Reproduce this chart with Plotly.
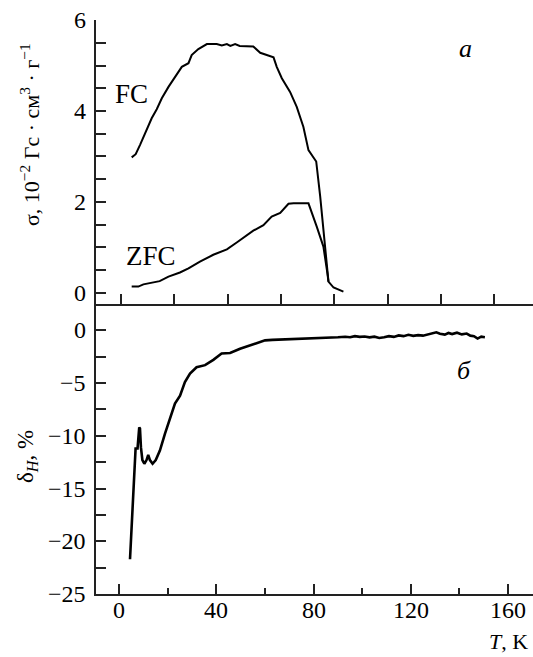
import plotly.graph_objects as go

# ---- Upper panel (a): magnetization sigma vs T ----
fc_T = [4.0, 5.5, 7.1, 9.0, 11.5, 13.4, 15.3, 17.8, 20.3, 22.8, 25.3, 26.5, 29.0, 32.2,
        35.9, 37.8, 39.7, 41.0, 42.8, 44.5, 49.6, 52.2, 57.2, 58.4, 60.3, 63.4, 65.9,
        68.4, 70.3, 73.2, 74.7, 76.5, 77.8, 79.7, 83.4]
fc_S = [2.98, 3.05, 3.25, 3.51, 3.84, 4.04, 4.28, 4.53, 4.75, 4.97, 5.05, 5.23, 5.36, 5.47,
        5.47, 5.44, 5.47, 5.43, 5.47, 5.43, 5.42, 5.28, 5.18, 4.97, 4.72, 4.42, 4.09,
        3.65, 3.14, 2.89, 2.12, 1.02, 0.25, 0.12, 0.03]
zfc_T = [4.0, 6.5, 8.4, 12.8, 14.5, 17.8, 22.1, 25.3, 29.6, 34.6, 39.7, 43.4, 47.2, 49.6,
         53.4, 56.5, 59.7, 62.8, 64.7, 70.3, 73.4, 75.9, 77.4, 77.8]
zfc_S = [0.14, 0.14, 0.19, 0.23, 0.26, 0.36, 0.45, 0.54, 0.69, 0.84, 0.96, 1.11, 1.27, 1.37,
         1.49, 1.68, 1.76, 1.96, 1.97, 1.97, 1.46, 1.02, 0.43, 0.25]

# ---- Lower panel (б): delta_H vs T ----
d_T = [4.4, 4.8, 5.4, 5.8, 6.2, 6.7, 7.5, 8.2, 8.5, 8.9, 9.5, 10.3, 11.2, 11.9, 12.6, 13.7,
       15.0, 16.7, 18.8, 20.9, 22.9, 25.0, 27.0, 29.1, 31.8, 35.3, 38.7, 42.1, 45.6, 49.7,
       53.8, 58.6, 60, 63, 66, 70, 75, 80, 85, 90, 93, 95, 97, 99, 101, 103, 105, 107, 109,
       111, 113, 115, 117, 119, 121, 123, 125, 127, 129, 130.5, 132, 134, 135.5, 137, 139,
       141, 143, 144.5, 146, 147.5, 149, 150.5]
d_V = [-21.7, -19.9, -18.0, -15.0, -13.6, -11.2, -11.2, -9.2, -9.3, -11.1, -12.3, -12.65,
       -12.3, -11.8, -12.3, -12.65, -12.3, -11.4, -9.8, -8.4, -6.95, -6.2, -4.9, -4.1, -3.5,
       -3.3, -2.8, -2.2, -2.15, -1.74, -1.42, -1.0, -0.95, -0.9, -0.88, -0.85, -0.8, -0.75,
       -0.7, -0.65, -0.6, -0.65, -0.55, -0.62, -0.58, -0.66, -0.6, -0.72, -0.65, -0.55, -0.62,
       -0.48, -0.55, -0.42, -0.52, -0.45, -0.5, -0.38, -0.3, -0.18, -0.32, -0.4, -0.25, -0.35,
       -0.22, -0.38, -0.3, -0.5, -0.55, -0.78, -0.6, -0.65]

# ---- Tick labels ----
x_ticks = [0, 40, 80, 120, 160]
y_low_ticks = [0, -5, -10, -15, -20, -25]
y_up_ticks = [0, 2, 4, 6]

W, H = 533, 657
FONT = "Liberation Serif"
AX = "#222"
TS = 24

fig = go.Figure()
fig.add_trace(go.Scatter(x=fc_T, y=fc_S, mode="lines", xaxis="x2", yaxis="y2",
                         line=dict(color="black", width=2), showlegend=False))
fig.add_trace(go.Scatter(x=zfc_T, y=zfc_S, mode="lines", xaxis="x2", yaxis="y2",
                         line=dict(color="black", width=2), showlegend=False))
fig.add_trace(go.Scatter(x=d_T, y=d_V, mode="lines", xaxis="x", yaxis="y",
                         line=dict(color="black", width=2.6), showlegend=False))

xl = 96 / W
top_u, mid, bot = 1 - 20 / H, 1 - 304 / H, 1 - 594 / H

common = dict(showgrid=False, zeroline=False, showline=True, linecolor=AX, linewidth=1.5,
              ticks="inside", tickcolor=AX, tickwidth=1.5, showticklabels=False)

fig.update_layout(
    width=W, height=H, margin=dict(l=0, r=0, t=0, b=0),
    paper_bgcolor="white", plot_bgcolor="white",
    font=dict(family=FONT, size=TS, color="black"),
    xaxis=dict(domain=[xl, 1], range=[-9.6, 170.3], anchor="y", dtick=40, tick0=0,
               ticklen=10, minor=dict(dtick=20, tick0=0, ticks="inside", ticklen=6,
                                      tickcolor=AX, tickwidth=1.5), **common),
    yaxis=dict(domain=[bot, mid], range=[-25, 2.5], anchor="x", dtick=5, tick0=0,
               ticklen=10, minor=dict(dtick=2.5, tick0=0, ticks="inside", ticklen=10,
                                      tickcolor=AX, tickwidth=1.5), **common),
    xaxis2=dict(domain=[xl, 1], range=[-9.38, 154.5], anchor="y2", dtick=20, tick0=0,
                ticklen=10, **common),
    yaxis2=dict(domain=[mid, top_u], range=[-0.242, 6.0], anchor="x2", dtick=2, tick0=0,
                ticklen=10, minor=dict(dtick=0.5, tick0=0, ticks="inside", ticklen=10,
                                       tickcolor=AX, tickwidth=1.5), **common),
)

def fmt(v):
    return str(v).replace("-", "\u2212")

for v in x_ticks:
    fig.add_annotation(text=fmt(v), x=v, xref="x", y=1 - 610 / H, yref="paper",
                       showarrow=False, xanchor="center", yanchor="middle",
                       font=dict(family=FONT, size=TS, color="black"))
for v in y_low_ticks:
    fig.add_annotation(text=fmt(v), x=88 / W, xref="paper", y=v, yref="y",
                       showarrow=False, xanchor="right", yanchor="middle",
                       font=dict(family=FONT, size=TS, color="black"))
for v in y_up_ticks:
    fig.add_annotation(text=fmt(v), x=88 / W, xref="paper", y=v, yref="y2",
                       showarrow=False, xanchor="right", yanchor="middle",
                       font=dict(family=FONT, size=TS, color="black"))

def ann(text, x, y, size=21, angle=0, xanchor="center", yanchor="middle"):
    fig.add_annotation(text=text, x=x / W, y=1 - y / H, xref="paper", yref="paper",
                       showarrow=False, textangle=angle, xanchor=xanchor, yanchor=yanchor,
                       font=dict(family=FONT, size=size, color="black"))

ann("FC", 131, 94, size=27)
ann("ZFC", 151, 256, size=27)
ann("<i>a</i>", 465, 48, size=26)
ann("<i>б</i>", 464, 370, size=26)
ann("σ, 10<sup>\u22122</sup> Гс · см<sup>3</sup> · г<sup>\u22121</sup>", 30, 135, size=22, angle=-90)
ann("δ<sub><i>H</i></sub>, %", 27, 457, size=23, angle=-90)
ann("<i>T</i>, K", 530, 656, size=22, xanchor="right", yanchor="bottom")

fig.write_html("out.html", config={"displayModeBar": False},
               post_script="document.body.style.margin='0';document.body.style.padding='0';"
                           "document.documentElement.style.overflow='hidden';")
